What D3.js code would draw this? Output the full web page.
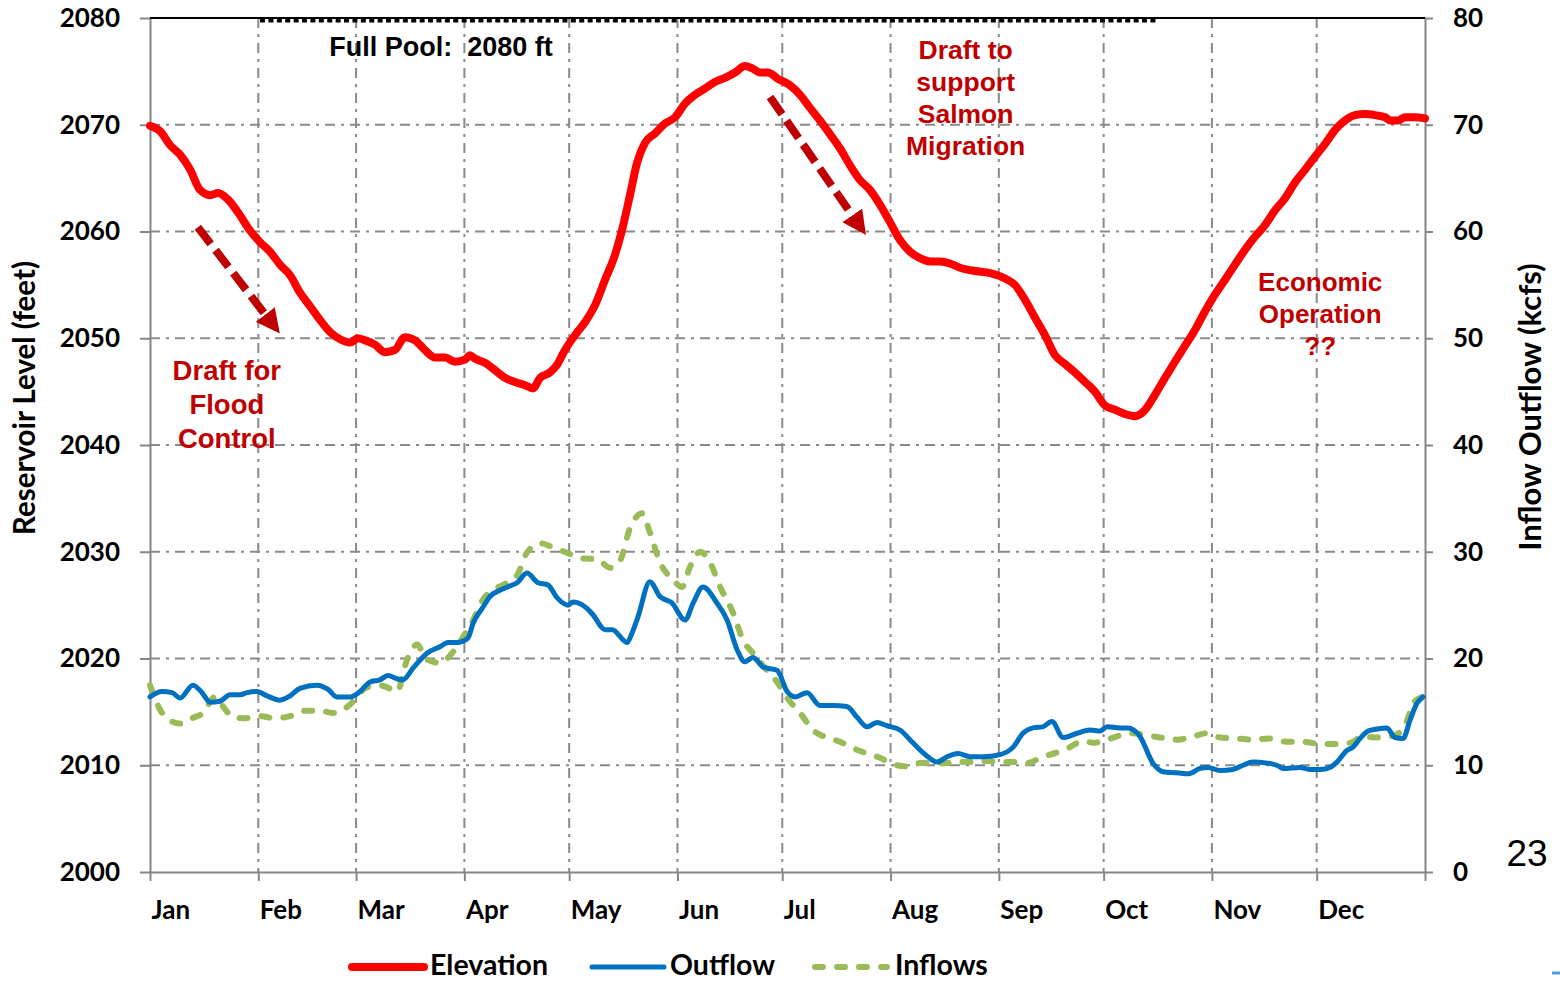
<!DOCTYPE html>
<html>
<head>
<meta charset="utf-8">
<script src="https://cdn.jsdelivr.net/npm/d3@7"></script>
<style>
    body { margin: 0; background: #fff; }
    svg { display: block; }
</style>
</head>
<body>
<svg id="chart"></svg>
<script>
// ---- data ----
const monthLabels = ['Jan', 'Feb', 'Mar', 'Apr', 'May', 'Jun', 'Jul', 'Aug', 'Sep', 'Oct', 'Nov', 'Dec'];
const monthStartDays = [0, 31, 59, 90, 120, 151, 181, 212, 243, 273, 304, 334, 365];
const elevTicks = [2000, 2010, 2020, 2030, 2040, 2050, 2060, 2070, 2080];
const flowTicks = [0, 10, 20, 30, 40, 50, 60, 70, 80];

const fullPoolFt = 2080;
const fullPoolDays = [31.5, 288];

const elevDays = [0, 2.9, 5.7, 8.6, 11.5, 14.3, 17.2, 19.5, 22.3, 25.8, 28.6, 31.5, 34.4, 37.2, 40.1, 42.9,
    45.8, 48.7, 51.5, 54.4, 57.3, 59.5, 61.6, 64.4, 67.3, 70.1, 73, 75.9, 78.7, 81.6, 84.5, 87.3, 90.2,
    91.6, 93, 95.9, 98.8, 101.6, 104.5, 107.4, 109.6, 111.7, 114.5, 116.5, 118.8, 121.7, 124.5, 127.4,
    130.3, 133.1, 135.1, 137.4, 139.4, 141.7, 144.6, 147.4, 150.3, 153.2, 156, 158.9, 161.7, 164.6,
    167.5, 170.3, 172.3, 174.6, 176.9, 179.8, 183.2, 186.1, 188.9, 191.8, 194.7, 197.5, 200.4, 203.3,
    206.1, 209, 211.8, 214.7, 217.6, 220.4, 223.3, 226.2, 229, 231.9, 236.2, 240.5, 244.8, 247.6, 250.5,
    253.4, 256.2, 259.1, 261.9, 264.8, 267.7, 270.5, 273.4, 276.3, 279.1, 282, 284.9, 287.7, 290.6,
    293.4, 296.3, 299.2, 302, 304.9, 307.8, 310.6, 313.5, 316.3, 319.2, 322.1, 324.9, 327.8, 330.7,
    333.5, 336.4, 339.2, 342.1, 345, 347.8, 350.7, 353.6, 355, 357.3, 359.3, 362.1, 365];
const elevFt = [2069.9, 2069.4, 2068.1, 2067.2, 2065.8, 2063.9, 2063.4, 2063.6, 2063.0, 2061.5, 2060.1,
    2059.0, 2058.1, 2056.9, 2055.9, 2054.3, 2053.0, 2051.7, 2050.6, 2049.9, 2049.6, 2050.0, 2049.8,
    2049.4, 2048.7, 2048.9, 2050.1, 2049.8, 2048.9, 2048.2, 2048.2, 2047.8, 2048.0, 2048.4, 2048.1,
    2047.7, 2047.0, 2046.3, 2045.9, 2045.6, 2045.3, 2046.3, 2046.8, 2047.5, 2048.9, 2050.3, 2051.5,
    2053.1, 2055.5, 2057.8, 2060.1, 2063.4, 2066.4, 2068.3, 2069.2, 2070.1, 2070.7, 2072.0, 2072.8,
    2073.4, 2074.0, 2074.4, 2074.9, 2075.5, 2075.3, 2074.9, 2074.9, 2074.3, 2073.7, 2072.8, 2071.6,
    2070.4, 2069.1, 2067.8, 2066.2, 2064.8, 2063.9, 2062.5, 2060.9, 2059.2, 2058.1, 2057.5, 2057.2,
    2057.2, 2057.0, 2056.6, 2056.3, 2056.1, 2055.6, 2055.0, 2053.6, 2051.9, 2050.3, 2048.4, 2047.6,
    2046.8, 2045.9, 2045.0, 2043.7, 2043.3, 2042.9, 2042.7, 2043.3, 2044.7, 2046.3, 2047.8, 2049.3,
    2050.8, 2052.5, 2054.1, 2055.5, 2056.9, 2058.3, 2059.5, 2060.6, 2062.0, 2063.1, 2064.6, 2065.8,
    2067.0, 2068.2, 2069.5, 2070.4, 2070.9, 2071.0, 2070.9, 2070.7, 2070.4, 2070.4, 2070.7, 2070.7, 2070.6];

const outDays = [0, 3.4, 6.3, 8.6, 12.3, 14.9, 17.2, 20, 22.9, 25.8, 27.8, 30.6, 33.5, 37.2, 40.1, 42.9,
    47.8, 51, 53.5, 57.3, 60.1, 63, 65.8, 68.1, 70.7, 72.4, 75.3, 79.3, 83, 85.3, 87.9, 91, 92.5, 95.3,
    97.3, 100.2, 103.1, 105.1, 107.9, 111.1, 113.9, 116.5, 119.7, 121.1, 125.1, 126.8, 130.3, 132.3,
    136.6, 138, 139.7, 143.1, 146, 149.4, 153.2, 155.5, 158.3, 162.3, 165.2, 168.1, 170.3, 172.6, 175.5,
    179.5, 182.4, 184.7, 188.1, 191.8, 195.5, 199.5, 202.4, 205.3, 208.1, 211, 214.7, 218.4, 221.9,
    225.3, 228.2, 231.3, 234.8, 238.5, 243.3, 247.1, 249.9, 252.8, 255.6, 258.2, 261.4, 265.4, 269.1,
    272, 274, 277.7, 280, 283.4, 287.1, 290, 294, 297.2, 300.6, 302.9, 306.3, 310, 312.9, 315.8, 319.8,
    322.6, 324.4, 329.2, 332.1, 335, 337.8, 339.8, 342.7, 344.4, 346.4, 348.7, 351.3, 354.1, 356.4,
    358.7, 360.7, 362.7, 364.4];
const outKcfs = [16.4, 16.9, 16.8, 16.3, 17.5, 16.8, 15.9, 16.0, 16.6, 16.6, 16.8, 16.9, 16.5, 16.1, 16.5,
    17.2, 17.5, 17.1, 16.4, 16.4, 16.9, 17.8, 18.0, 18.4, 18.1, 18.0, 19.1, 20.5, 21.1, 21.5, 21.5, 21.9,
    23.3, 24.8, 25.8, 26.4, 26.8, 27.1, 28.0, 27.1, 26.9, 25.7, 25.0, 25.3, 24.7, 24.1, 22.7, 22.7, 21.5,
    22.4, 23.9, 27.2, 25.8, 25.2, 23.6, 25.2, 26.7, 25.2, 23.6, 20.8, 19.7, 20.1, 19.2, 18.9, 16.9, 16.4,
    16.8, 15.6, 15.6, 15.5, 14.5, 13.6, 14.0, 13.7, 13.3, 12.1, 11.0, 10.3, 10.8, 11.1, 10.8, 10.8, 11.0,
    11.7, 13.0, 13.5, 13.6, 14.1, 12.6, 13.0, 13.3, 13.2, 13.6, 13.5, 13.5, 12.7, 10.2, 9.4, 9.3, 9.2,
    9.7, 9.8, 9.5, 9.6, 10.0, 10.3, 10.2, 10.0, 9.7, 9.8, 9.6, 9.6, 9.8, 10.3, 11.4, 11.7, 12.5, 13.2,
    13.4, 13.5, 12.6, 12.5, 14.2, 15.8, 16.4];

const inDays = [0, 2.9, 5.7, 8.6, 12, 15.2, 18.6, 20.9, 23.8, 27.2, 31.5, 35.8, 40.1, 44.4, 48.7, 52.4,
    55.8, 57.3, 62.1, 65.8, 67.9, 70.7, 73.6, 76.4, 79.3, 83, 86.7, 89.6, 92.5, 95.3, 98.2, 102.2, 105.1,
    107.9, 111.7, 115.4, 119.4, 123.1, 128, 131.7, 134.6, 137.4, 140.9, 143.1, 146, 149.7, 152.3, 154.6,
    157.5, 160.3, 163.2, 166.9, 169.8, 172.6, 176.6, 179.5, 182.4, 186.1, 189.8, 193.8, 197.5, 201.3,
    205.3, 209, 212.7, 216.7, 220.4, 224.2, 228.2, 231.9, 235.6, 239.6, 243.3, 247.1, 251.1, 255.6,
    259.7, 263.4, 267.1, 270, 274, 277.7, 281.4, 285.4, 289.1, 294, 297.7, 302.6, 306.3, 311.2, 315.8,
    320.6, 325.5, 330.1, 335, 339.8, 343.5, 347.3, 351.3, 355, 357.9, 359.9, 361.6, 364.2];
const inKcfs = [17.5, 15.2, 14.2, 13.9, 14.4, 14.9, 16.4, 15.5, 14.5, 14.4, 14.6, 14.4, 14.6, 15.1, 15.1,
    14.9, 15.3, 15.7, 17.3, 17.5, 17.3, 16.9, 19.9, 21.3, 19.9, 19.6, 20.6, 22.0, 23.6, 25.5, 26.4, 27.1,
    27.8, 29.9, 30.8, 30.4, 29.9, 29.4, 29.3, 28.5, 29.2, 32.2, 33.6, 31.8, 29.0, 27.4, 26.7, 28.6, 30.0,
    29.0, 26.7, 24.3, 21.7, 20.5, 18.9, 17.8, 16.3, 14.9, 13.3, 12.6, 12.2, 11.6, 11.1, 10.7, 10.1, 9.9,
    10.2, 10.2, 10.2, 10.3, 10.3, 10.4, 10.3, 10.3, 10.2, 10.8, 11.2, 11.7, 12.3, 12.1, 12.4, 12.8, 13.0,
    12.8, 12.6, 12.4, 12.6, 13.0, 12.6, 12.5, 12.4, 12.5, 12.2, 12.2, 12.0, 12.0, 12.1, 12.7, 12.6, 12.7,
    13.1, 14.2, 15.8, 16.4];

// annotation text + arrows (positions given in day / feet)
const noteFlood = ['Draft for', 'Flood', 'Control'];
const noteSalmon = ['Draft to', 'support', 'Salmon', 'Migration'];
const noteEcon = ['Economic', 'Operation', '??'];
const arrowFlood = [[13.7, 2060.4], [35.5, 2051.15]];
const arrowSalmon = [[177.5, 2072.6], [203.4, 2060.4]];

// ---- drawing ----
const W = 1560, H = 981;
const margin = { top: 18, right: 135, bottom: 109, left: 150 };
const width = W - margin.left - margin.right;
const height = H - margin.top - margin.bottom;

const calFont = "Lato, 'Open Sans', sans-serif";
const arialFont = "'Liberation Sans', Arial, sans-serif";
const gridColor = '#8a8a8a';
const noteColor = '#C00000';

const root = d3.select('#chart').attr('width', W).attr('height', H);
const svg = root.append('g').attr('transform', `translate(${margin.left},${margin.top})`);

const x = d3.scaleLinear().domain([0, 365]).range([0, width]);
const yL = d3.scaleLinear().domain([2000, 2080]).range([height, 0]);
const yR = d3.scaleLinear().domain([0, 80]).range([height, 0]);

// Grid lines
svg.append('g')
    .selectAll('line')
    .data(elevTicks.slice(1, -1))
    .join('line')
    .attr('x1', 0).attr('x2', width)
    .attr('y1', d => yL(d)).attr('y2', d => yL(d))
    .attr('stroke', gridColor).attr('stroke-width', 2)
    .attr('stroke-dasharray', '10,6,3,6');

svg.append('g')
    .selectAll('line')
    .data(monthStartDays.slice(1, -1))
    .join('line')
    .attr('x1', d => x(d)).attr('x2', d => x(d))
    .attr('y1', 0).attr('y2', height)
    .attr('stroke', gridColor).attr('stroke-width', 2)
    .attr('stroke-dasharray', '10,6,3,6');

// Axes
const styleAxis = (g) => {
    g.selectAll('.domain').attr('stroke', '#868686').attr('stroke-width', 2);
    g.selectAll('.tick line').attr('stroke', '#868686').attr('stroke-width', 2);
    g.selectAll('text')
        .attr('font-family', calFont)
        .attr('font-weight', 700)
        .attr('font-size', '26px')
        .attr('fill', '#000');
};

svg.append('g')
    .call(d3.axisLeft(yL).tickValues(elevTicks).tickFormat(d3.format('d'))
        .tickSize(10).tickPadding(20).tickSizeOuter(0))
    .call(styleAxis);

svg.append('g')
    .attr('transform', `translate(${width},0)`)
    .call(d3.axisRight(yR).tickValues(flowTicks).tickSize(8).tickPadding(20).tickSizeOuter(0))
    .call(styleAxis);

const xAxis = svg.append('g')
    .attr('transform', `translate(0,${height})`)
    .call(d3.axisBottom(x).tickValues(monthStartDays).tickSize(9).tickPadding(20).tickSizeOuter(0)
        .tickFormat((d, i) => monthLabels[i] || ''))
    .call(styleAxis);
xAxis.selectAll('text').attr('text-anchor', 'start').attr('dx', 1);

// Top border
svg.append('line')
    .attr('x1', 0).attr('x2', width).attr('y1', 0).attr('y2', 0)
    .attr('stroke', '#000').attr('stroke-width', 2);

// Full pool marker (square dots hang just below the border)
svg.append('line')
    .attr('x1', x(fullPoolDays[0])).attr('x2', x(fullPoolDays[1]))
    .attr('y1', yL(fullPoolFt) + 2).attr('y2', yL(fullPoolFt) + 2)
    .attr('stroke', '#000').attr('stroke-width', 5)
    .attr('stroke-dasharray', '5,3.4');

svg.append('text')
    .attr('x', 291)
    .attr('y', 38)
    .attr('text-anchor', 'middle')
    .attr('font-family', arialFont)
    .attr('font-weight', 700)
    .attr('font-size', '27px')
    .attr('fill', '#000')
    .style('white-space', 'pre')
    .text('Full Pool:  2080 ft');

// Series
const line = (xs, ys, yScale) => d3.line()
    .x((d, i) => x(xs[i]))
    .y((d, i) => yScale(ys[i]))
    .curve(d3.curveMonotoneX)(ys);

svg.append('path')
    .attr('d', line(inDays, inKcfs, yR))
    .attr('fill', 'none').attr('stroke', '#9BBB59').attr('stroke-width', 6)
    .attr('stroke-linecap', 'round').attr('stroke-dasharray', '8,14');

svg.append('path')
    .attr('d', line(outDays, outKcfs, yR))
    .attr('fill', 'none').attr('stroke', '#0070C0').attr('stroke-width', 5)
    .attr('stroke-linejoin', 'round').attr('stroke-linecap', 'round');

svg.append('path')
    .attr('d', line(elevDays, elevFt, yL))
    .attr('fill', 'none').attr('stroke', '#FF0000').attr('stroke-width', 8)
    .attr('stroke-linejoin', 'round').attr('stroke-linecap', 'round');

// Arrows
root.append('defs').append('marker')
    .attr('id', 'head')
    .attr('viewBox', '0 0 10 10')
    .attr('refX', 6).attr('refY', 5)
    .attr('markerUnits', 'userSpaceOnUse')
    .attr('markerWidth', 24).attr('markerHeight', 24)
    .attr('orient', 'auto')
    .append('path')
    .attr('d', 'M0,0 L10,5 L0,10 z')
    .attr('fill', noteColor);

[arrowFlood, arrowSalmon].forEach(a => {
    svg.append('line')
        .attr('x1', x(a[0][0])).attr('y1', yL(a[0][1]))
        .attr('x2', x(a[1][0])).attr('y2', yL(a[1][1]))
        .attr('stroke', noteColor).attr('stroke-width', 8)
        .attr('stroke-dasharray', '21,8')
        .attr('marker-end', 'url(#head)');
});

// Notes
const note = (lines, day, ft, lineH, size) => {
    const t = svg.append('text')
        .attr('text-anchor', 'middle')
        .attr('font-family', arialFont)
        .attr('font-weight', 700)
        .attr('font-size', size + 'px')
        .attr('fill', noteColor);
    lines.forEach((s, i) => {
        t.append('tspan').attr('x', x(day)).attr('y', yL(ft) + i * lineH).text(s);
    });
};
note(noteFlood, 22, 2046.1, 34, 27.5);
note(noteSalmon, 233.5, 2076.2, 32, 26.5);
note(noteEcon, 335, 2054.4, 32, 26);

// Axis titles
svg.append('text')
    .attr('transform', `translate(${-115},${height / 2 - 47}) rotate(-90)`)
    .attr('text-anchor', 'middle')
    .attr('font-family', calFont).attr('font-weight', 700).attr('font-size', '29.5px')
    .text('Reservoir Level (feet)');

svg.append('text')
    .attr('transform', `translate(${width + 116},${height / 2 - 38}) rotate(-90)`)
    .attr('text-anchor', 'middle')
    .attr('font-family', calFont).attr('font-weight', 700).attr('font-size', '31px')
    .text('Inflow Outflow (kcfs)');

// Legend
const legendItems = [
    { name: 'Elevation', color: '#FF0000', w: 8, dash: null, x0: 352 },
    { name: 'Outflow', color: '#0070C0', w: 5, dash: null, x0: 592 },
    { name: 'Inflows', color: '#9BBB59', w: 6, dash: '8,14', x0: 815 }
];
const legend = root.append('g');
legendItems.forEach(d => {
    legend.append('line')
        .attr('x1', d.x0).attr('x2', d.x0 + 72)
        .attr('y1', 967).attr('y2', 967)
        .attr('stroke', d.color).attr('stroke-width', d.w)
        .attr('stroke-linecap', 'round')
        .attr('stroke-dasharray', d.dash);
    legend.append('text')
        .attr('x', d.x0 + (d.dash ? 80 : 78))
        .attr('y', 975)
        .attr('font-family', calFont).attr('font-weight', 700).attr('font-size', '28.5px')
        .text(d.name);
});

// Slide number
root.append('text')
    .attr('x', 1527).attr('y', 866)
    .attr('text-anchor', 'middle')
    .attr('font-family', arialFont).attr('font-size', '37px')
    .text('23');
root.append('line')
    .attr('x1', 1552).attr('x2', 1560).attr('y1', 973).attr('y2', 973)
    .attr('stroke', '#4F9FD6').attr('stroke-width', 3);
</script>
</body>
</html>
